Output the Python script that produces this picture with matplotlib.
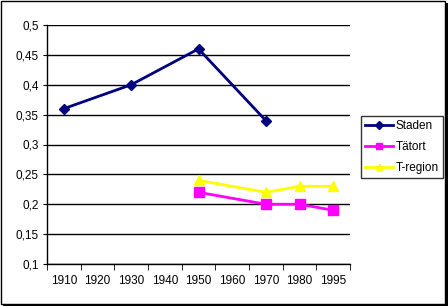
import matplotlib.pyplot as plt
from matplotlib.patches import Rectangle

# data to plot
years = ['1910', '1920', '1930', '1940', '1950', '1960', '1970', '1980', '1995']
staden = [0.36, None, 0.40, None, 0.46, None, 0.34, None, None]
tatort = [None, None, None, None, 0.22, None, 0.20, 0.20, 0.19]
tregion = [None, None, None, None, 0.24, None, 0.22, 0.23, 0.23]
yticks = [0.1, 0.15, 0.2, 0.25, 0.3, 0.35, 0.4, 0.45, 0.5]

plt.rcParams['font.family'] = ['Liberation Sans', 'DejaVu Sans']
plt.rcParams['font.size'] = 8.5

fig = plt.figure(figsize=(4.48, 3.06), dpi=100)
ax = fig.add_axes([47 / 448, 42 / 306, 303 / 448, 239 / 306])


def pts(vals):
    xs = [i for i, v in enumerate(vals) if v is not None]
    ys = [v for v in vals if v is not None]
    return xs, ys


x, y = pts(staden)
ax.plot(x, y, color='#000080', marker='D', markersize=5.5, linewidth=2, label='Staden', clip_on=False)
x, y = pts(tatort)
ax.plot(x, y, color='#FF00FF', marker='s', markersize=7, linewidth=2, label='Tätort', clip_on=False)
x, y = pts(tregion)
ax.plot(x, y, color='#FFFF00', marker='^', markersize=7, linewidth=2, label='T-region', clip_on=False)

# axes styling, Excel look
ax.set_xlim(-0.5, len(years) - 0.5)
ax.set_ylim(0.1, 0.5)
ax.set_yticks(yticks)
ax.set_yticklabels([('%g' % v).replace('.', ',') for v in yticks])
ax.set_xticks(range(len(years)))
ax.set_xticklabels(years)
ax.set_xticks([i - 0.5 for i in range(len(years) + 1)], minor=True)
ax.tick_params(axis='x', which='major', length=0, pad=8)
ax.tick_params(axis='x', which='minor', length=4, direction='out', color='black')
ax.tick_params(axis='y', length=3, direction='out', pad=3)
ax.grid(axis='y', color='black', linewidth=1)
ax.set_axisbelow(True)
for s in ['top', 'right']:
    ax.spines[s].set_visible(False)
for s in ['left', 'bottom']:
    ax.spines[s].set_linewidth(1)

leg = fig.legend(loc='upper left', bbox_to_anchor=(361 / 448, 1 - 116 / 306), frameon=True,
                 fancybox=False, edgecolor='black', handlelength=2.4, borderpad=0.35,
                 labelspacing=0.75, handletextpad=0.2, borderaxespad=0, handleheight=0.7,
                 markerscale=0.7)
leg.get_frame().set_linewidth(1)

# figure border with shadow
fig.patches.append(Rectangle((0.5 / 448, 2.5 / 306), 444.5 / 448, 303 / 306, transform=fig.transFigure,
                             fill=False, edgecolor='black', linewidth=1))
fig.patches.append(Rectangle((445 / 448, 0), 3 / 448, 303 / 306, transform=fig.transFigure,
                             facecolor='black', edgecolor='none'))
fig.patches.append(Rectangle((3 / 448, 0), 445 / 448, 2.5 / 306, transform=fig.transFigure,
                             facecolor='black', edgecolor='none'))

plt.savefig('out.png', dpi=100)
